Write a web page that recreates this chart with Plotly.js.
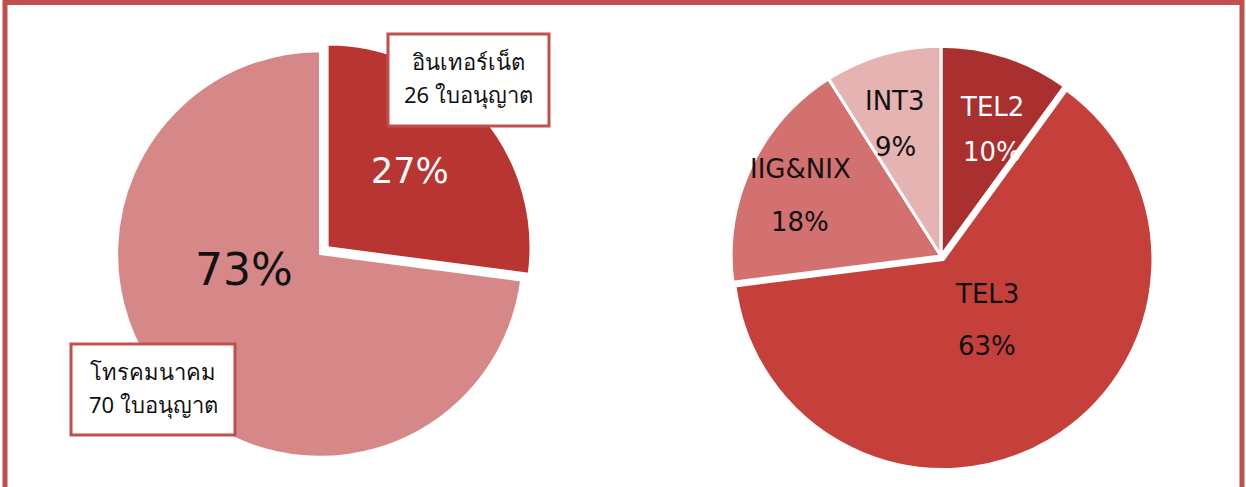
<!DOCTYPE html>
<html>
<head>
<meta charset="utf-8">
<script src="https://cdn.plot.ly/plotly-3.0.1.min.js"></script>
<style>html,body{margin:0;padding:0;background:#fff;}#chart{width:1246px;height:487px;}</style>
</head>
<body>
<div id="chart"></div>
<script>
// Left pie: licences by type
const leftLabels = ['อินเทอร์เน็ต', 'โทรคมนาคม'];
const leftValues = [26, 70];
const leftUnit = 'ใบอนุญาต';
const leftColors = ['#b83532', '#d68888'];
const leftTextColors = ['#ffffff', '#111111'];
const leftPull = [0.05, 0];

// Right pie: licence categories (%)
const rightLabels = ['TEL2', 'TEL3', 'IIG&NIX', 'INT3'];
const rightValues = [10, 63, 18, 9];
const rightColors = ['#a9302e', '#c53f3b', '#d27170', '#e6b3b3'];
const rightTextColors = ['#ffffff', '#111111', '#111111', '#111111'];
const rightPull = [0, 0.02, 0, 0];

const W = 1246, H = 487;
const px = x => x / W;
const py = y => 1 - y / H;
const pct = (arr, i) => Math.round(arr[i] / arr.reduce((a, b) => a + b, 0) * 100) + '%';

// label anchor positions (layout only, in pixels)
const leftLabelPos = [[410, 171], [244, 269]];
const leftLabelSize = [35, 44];
const rightLabelPos = [[992, 107, 152], [987, 294, 346], [800, 169, 222], [895, 101, 147]];

const traces = [
  {
    type: 'pie',
    labels: leftLabels,
    values: leftValues,
    sort: false,
    direction: 'clockwise',
    rotation: 0,
    pull: leftPull,
    marker: {colors: leftColors, line: {color: '#ffffff', width: 2}},
    textinfo: 'none',
    hoverinfo: 'label+value+percent',
    showlegend: false,
    domain: {x: [px(107), px(533)], y: [py(467), py(41)]}
  },
  {
    type: 'pie',
    labels: rightLabels,
    values: rightValues,
    sort: false,
    direction: 'clockwise',
    rotation: 0,
    pull: rightPull,
    marker: {colors: rightColors, line: {color: '#ffffff', width: 3}},
    textinfo: 'none',
    hoverinfo: 'label+percent',
    showlegend: false,
    domain: {x: [px(727), px(1155)], y: [py(470), py(42)]}
  }
];

const boxLine = {color: '#c0504d', width: 3};
const shapes = [
  {type: 'rect', xref: 'paper', yref: 'paper', x0: px(5), x1: px(1242), y0: -0.05, y1: py(2.5),
   line: {color: '#c0504d', width: 5}, fillcolor: 'rgba(0,0,0,0)', layer: 'above'},
  {type: 'rect', xref: 'paper', yref: 'paper', x0: px(388), x1: px(549), y0: py(126), y1: py(34),
   line: boxLine, fillcolor: '#ffffff', layer: 'above'},
  {type: 'rect', xref: 'paper', yref: 'paper', x0: px(71), x1: px(235), y0: py(435), y1: py(344),
   line: boxLine, fillcolor: '#ffffff', layer: 'above'}
];

const labelFamily = '"DejaVu Sans", Verdana, sans-serif';
const thaiFont = {family: '"Noto Sans", Tahoma, sans-serif', size: 22, color: '#111111'};
const annotations = [];
function addText(x, y, text, font) {
  annotations.push({xref: 'paper', yref: 'paper', x: px(x), y: py(y), xanchor: 'center', yanchor: 'middle',
    text: text, showarrow: false, font: font});
}
// callout box texts
addText(468, 61, leftLabels[0], thaiFont);
addText(468, 94, leftValues[0] + ' ' + leftUnit, thaiFont);
addText(153, 371, leftLabels[1], thaiFont);
addText(153, 404, leftValues[1] + ' ' + leftUnit, thaiFont);
// left pie percentages
leftValues.forEach((v, i) => {
  addText(leftLabelPos[i][0], leftLabelPos[i][1], pct(leftValues, i),
    {family: labelFamily, size: leftLabelSize[i], color: leftTextColors[i]});
});
// right pie labels
rightValues.forEach((v, i) => {
  const f = {family: labelFamily, size: 26, color: rightTextColors[i]};
  addText(rightLabelPos[i][0], rightLabelPos[i][1], rightLabels[i], f);
  addText(rightLabelPos[i][0], rightLabelPos[i][2], pct(rightValues, i), f);
});

const layout = {
  width: W, height: H,
  margin: {l: 0, r: 0, t: 0, b: 0},
  paper_bgcolor: '#ffffff',
  plot_bgcolor: '#ffffff',
  shapes: shapes,
  annotations: annotations,
  showlegend: false
};

Plotly.newPlot('chart', traces, layout, {displayModeBar: false, staticPlot: true});
</script>
</body>
</html>
